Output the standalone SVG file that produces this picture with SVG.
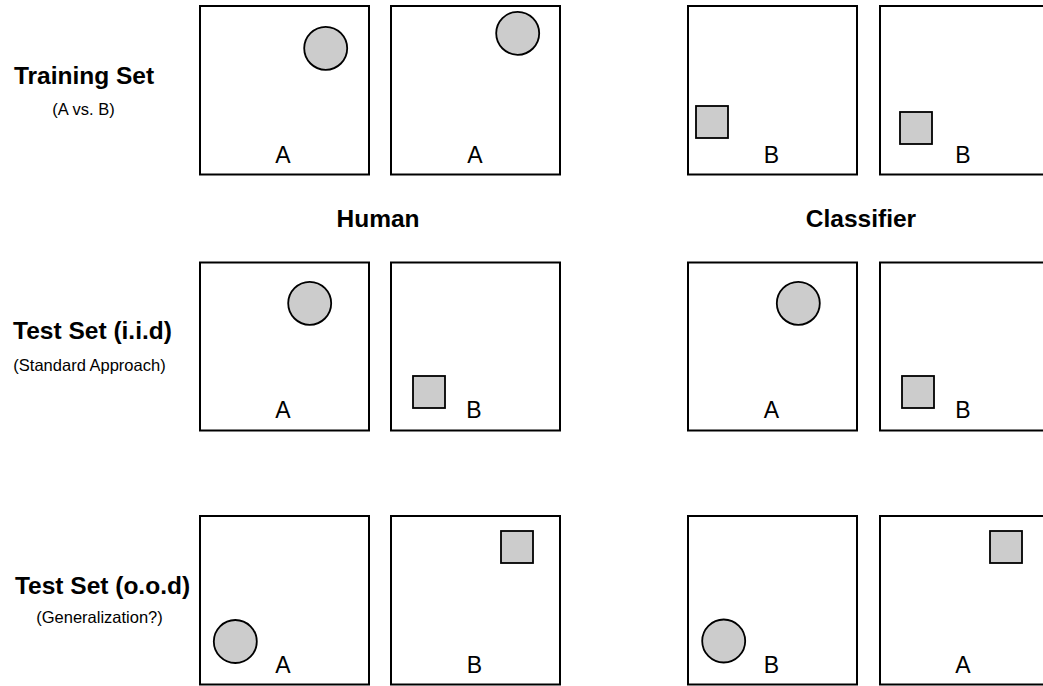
<svg xmlns="http://www.w3.org/2000/svg" width="1043" height="686" viewBox="0 0 1043 686">
  <style>
    .panel { fill: #ffffff; stroke: #000000; stroke-width: 2; }
    .circ { fill: #cccccc; stroke: #000000; stroke-width: 1.8; }
    .sq { fill: #cccccc; stroke: #000000; stroke-width: 1.8; }
    .cls { font-family: "Liberation Sans", Arial, sans-serif; font-size: 23px; fill: #000000; text-anchor: middle; }
    .title { font-family: "Liberation Sans", Arial, sans-serif; font-size: 24.5px; font-weight: bold; fill: #000000; text-anchor: middle; }
    .sub { font-family: "Liberation Sans", Arial, sans-serif; font-size: 16.5px; fill: #000000; text-anchor: middle; }
  </style>
  <rect width="1043" height="686" fill="#ffffff"/>

  <!-- row labels -->
  <g id="label-training">
    <text class="title" x="84" y="84">Training Set</text>
    <text class="sub" x="83.5" y="115">(A vs. B)</text>
  </g>
  <g id="label-iid">
    <text class="title" x="92.5" y="339">Test Set (i.i.d)</text>
    <text class="sub" x="89.5" y="371">(Standard Approach)</text>
  </g>
  <g id="label-ood">
    <text class="title" x="102.5" y="594">Test Set (o.o.d)</text>
    <text class="sub" x="99.5" y="623">(Generalization?)</text>
  </g>

  <!-- column headers -->
  <g id="header-human"><text class="title" x="378" y="227">Human</text></g>
  <g id="header-classifier"><text class="title" x="861" y="227">Classifier</text></g>

  <!-- training row -->
  <g id="train-1">
    <rect class="panel" x="200" y="6" width="169" height="168.5"/>
    <circle class="circ" cx="325.7" cy="48.3" r="21.5"/>
    <text class="cls" x="283" y="163">A</text>
  </g>
  <g id="train-2">
    <rect class="panel" x="391" y="6" width="169" height="168.5"/>
    <circle class="circ" cx="517.7" cy="33.3" r="21.5"/>
    <text class="cls" x="475" y="163">A</text>
  </g>
  <g id="train-3">
    <rect class="panel" x="688" y="6" width="169" height="168.5"/>
    <rect class="sq" x="696" y="106" width="32" height="32"/>
    <text class="cls" x="771.5" y="163">B</text>
  </g>
  <g id="train-4">
    <rect class="panel" x="880" y="6" width="169" height="168.5"/>
    <rect class="sq" x="900" y="112" width="32" height="32"/>
    <text class="cls" x="963" y="163">B</text>
  </g>

  <!-- i.i.d test row -->
  <g id="iid-human-1">
    <rect class="panel" x="200" y="262.5" width="169" height="168"/>
    <circle class="circ" cx="309.7" cy="303.3" r="21.5"/>
    <text class="cls" x="283" y="418.3">A</text>
  </g>
  <g id="iid-human-2">
    <rect class="panel" x="391" y="262.5" width="169" height="168"/>
    <rect class="sq" x="413" y="376" width="32" height="32"/>
    <text class="cls" x="474" y="418.3">B</text>
  </g>
  <g id="iid-clf-1">
    <rect class="panel" x="688" y="262.5" width="169" height="168"/>
    <circle class="circ" cx="798.3" cy="303.3" r="21.5"/>
    <text class="cls" x="771.5" y="418.3">A</text>
  </g>
  <g id="iid-clf-2">
    <rect class="panel" x="880" y="262.5" width="169" height="168"/>
    <rect class="sq" x="902" y="376" width="32" height="32"/>
    <text class="cls" x="963" y="418.3">B</text>
  </g>

  <!-- o.o.d test row -->
  <g id="ood-human-1">
    <rect class="panel" x="200" y="516" width="169" height="168.5"/>
    <circle class="circ" cx="235.3" cy="641.5" r="21.5"/>
    <text class="cls" x="283" y="672.5">A</text>
  </g>
  <g id="ood-human-2">
    <rect class="panel" x="391" y="516" width="169" height="168.5"/>
    <rect class="sq" x="501" y="531" width="32" height="32"/>
    <text class="cls" x="474.5" y="672.5">B</text>
  </g>
  <g id="ood-clf-1">
    <rect class="panel" x="688" y="516" width="169" height="168.5"/>
    <circle class="circ" cx="723.7" cy="641" r="21.5"/>
    <text class="cls" x="771.5" y="672.5">B</text>
  </g>
  <g id="ood-clf-2">
    <rect class="panel" x="880" y="516" width="169" height="168.5"/>
    <rect class="sq" x="990" y="531" width="32" height="32"/>
    <text class="cls" x="963" y="672.5">A</text>
  </g>

  <!-- no connectors in this figure -->
  <g id="connectors"/>
</svg>
